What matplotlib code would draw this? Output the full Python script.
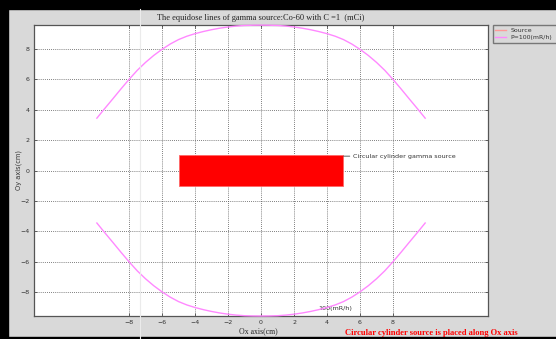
import matplotlib
matplotlib.use("Agg")
import matplotlib.pyplot as plt
from matplotlib.lines import Line2D
from matplotlib.patches import Rectangle

# equidose line P=100 (mR/h), left quarter;
# the rest of the curve is its mirror image (source is symmetric)
quarter_x = [-9.95, -9.5, -9.0, -8.5, -8.0, -7.5, -7.0, -6.5, -6.0, -5.5, -5.0,
             -4.5, -4.0, -3.5, -3.0, -2.5, -2.0, -1.5, -1.0, -0.5, 0.0]
quarter_y = [3.45, 4.05, 4.7, 5.36, 6.0, 6.6, 7.12, 7.58, 7.98, 8.33, 8.62,
             8.84, 9.01, 9.15, 9.27, 9.37, 9.45, 9.51, 9.55, 9.565, 9.57]

arc_x = quarter_x + [-v for v in quarter_x[::-1][1:]]
arc_y = quarter_y + quarter_y[::-1][1:]

# cylinder source seen from the side
source_x = [-5, 5, 5, -5, -5]
source_y = [-1, -1, 1, 1, -1]

ticks = [-8, -6, -4, -2, 0, 2, 4, 6, 8]

bg = '#d9d9d9'
fig = plt.figure(figsize=(5.56, 3.39), dpi=100, facecolor=bg)
ax = fig.add_axes([0.0612, 0.0678, 0.8165, 0.858])

ax.fill(source_x, source_y, color='red', lw=0.6, ec='#ff6666', zorder=3)
ax.plot(arc_x, arc_y, color='#ff88ff', lw=1.0, zorder=4, clip_on=False)
ax.plot(arc_x, [-v for v in arc_y], color='#ff88ff', lw=1.0, zorder=4, clip_on=False)

ax.set_xlim(-13.76, 13.76)
ax.set_ylim(-9.57, 9.57)
ax.set_xticks(ticks)
ax.set_yticks(ticks)
ax.tick_params(direction='in', length=2, width=0.5, labelsize=4.5, pad=3,
               colors='#333333', top=True, right=True)
ax.grid(True, color='#555555', linestyle=(0, (1, 1.5)), linewidth=0.6)
for s in ax.spines.values():
    s.set_color('#555555')
    s.set_linewidth(0.9)

ax.annotate('Circular cylinder gamma source', xy=(5.0, 0.95), xytext=(5.55, 0.95),
            fontsize=4.6, color='#333333', va='center', ha='left',
            arrowprops=dict(arrowstyle='-', color='#444444', lw=0.6,
                            shrinkA=0, shrinkB=0))
ax.text(3.45, -9.1, '100(mR/h)', fontsize=4.6, color='#333333',
        va='center', ha='left')

fig.text(0.469, 0.947, 'The equidose lines of gamma source:Co-60 with C =1  (mCi)',
         family='Liberation Serif', fontsize=6.0, ha='center', va='center', color='#222222')
fig.text(0.464, 0.024, 'Ox axis(cm)', family='Liberation Serif', fontsize=5.6,
         ha='center', va='center', color='#222222')
fig.text(0.034, 0.498, 'Oy axis(cm)', fontsize=4.8, rotation=90,
         ha='center', va='center', color='#333333')
fig.text(0.776, 0.018, 'Circular cylinder source is placed along Ox axis',
         family='Liberation Serif', fontsize=6.1, fontweight='bold', color='red',
         ha='center', va='center')

handles = [Line2D([], [], color='#ff9999', lw=1.0),
           Line2D([], [], color='#ff88ff', lw=1.0)]
fig.legend(handles, ['Source', 'P=100(mR/h)'], loc='upper left',
           bbox_to_anchor=(0.886, 0.873, 0.13, 0.054), mode='expand',
           fontsize=4.5, frameon=True,
           facecolor=bg, edgecolor='#777777', fancybox=False, framealpha=1,
           handlelength=1.7, handletextpad=0.7, borderpad=0.45, labelspacing=0.25,
           borderaxespad=0, labelcolor='#333333')

# screenshot frame: black strips and a stray vertical line
fig.add_artist(Rectangle((0, 0), 8 / 556, 1, transform=fig.transFigure, color='black'))
fig.add_artist(Rectangle((0, 1 - 9 / 339), 1, 9 / 339, transform=fig.transFigure, color='black'))
fig.add_artist(Rectangle((0, 0), 1, 2.5 / 339, transform=fig.transFigure, color='black'))
fig.add_artist(Line2D([140 / 556, 140 / 556], [0, 1 - 9 / 339], transform=fig.transFigure,
                      color='#ebebeb', lw=0.8))

fig.savefig('out.png', dpi=100, facecolor=bg)
